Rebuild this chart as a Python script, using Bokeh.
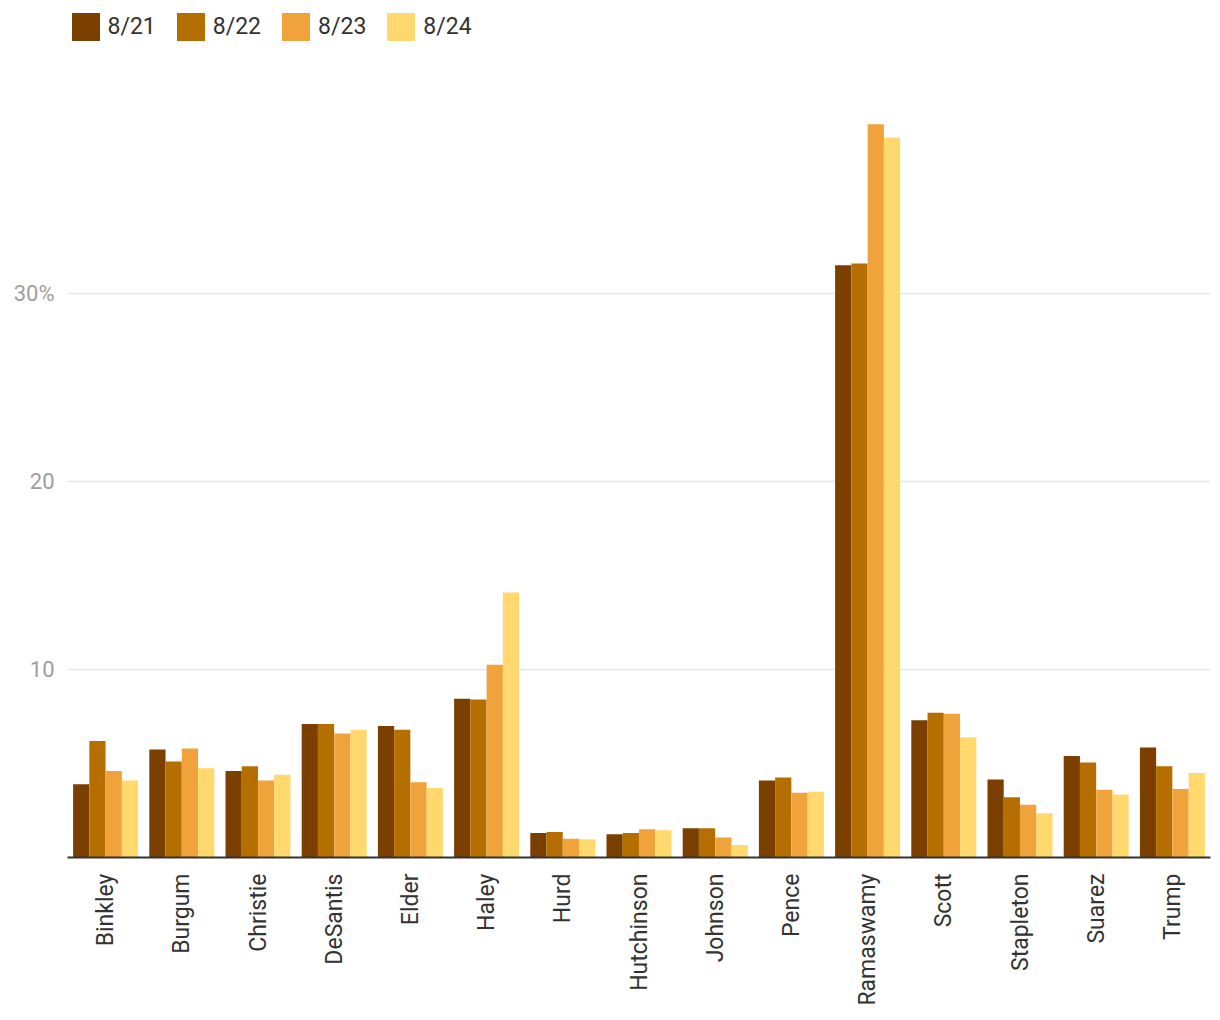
import math
from bokeh.plotting import figure
from bokeh.layouts import column
from bokeh.models import ColumnDataSource, FactorRange, Range1d, FixedTicker, Legend, LegendItem
from bokeh.transform import dodge
from bokeh.embed import file_html
from bokeh.resources import INLINE

candidates = ["Binkley", "Burgum", "Christie", "DeSantis", "Elder", "Haley", "Hurd",
              "Hutchinson", "Johnson", "Pence", "Ramaswamy", "Scott", "Stapleton", "Suarez", "Trump"]
series_names = ["8/21", "8/22", "8/23", "8/24"]
v_0821 = [3.9, 5.75, 4.6, 7.1, 7.0, 8.45, 1.3, 1.24, 1.55, 4.1, 31.5, 7.3, 4.15, 5.4, 5.85]
v_0822 = [6.2, 5.1, 4.85, 7.1, 6.8, 8.4, 1.35, 1.3, 1.55, 4.25, 31.6, 7.7, 3.2, 5.05, 4.85]
v_0823 = [4.6, 5.8, 4.1, 6.6, 4.0, 10.25, 1.0, 1.5, 1.07, 3.45, 39.0, 7.65, 2.8, 3.6, 3.65]
v_0824 = [4.1, 4.75, 4.4, 6.8, 3.7, 14.1, 0.97, 1.45, 0.66, 3.5, 38.3, 6.4, 2.35, 3.35, 4.5]
colors = ["#7b3f00", "#b56f00", "#f0a33a", "#ffd86e"]
y_ticks = [10, 20, 30]
y_tick_labels = {10: "10", 20: "20", 30: "30%"}

source = ColumnDataSource(data=dict(cand=candidates, s0=v_0821, s1=v_0822, s2=v_0823, s3=v_0824))
keys = ["s0", "s1", "s2", "s3"]

FONT = "Roboto"

# ---------- main chart ----------
p = figure(x_range=FactorRange(*candidates), y_range=Range1d(0, 42.5),
           width=1212, height=962, output_backend="svg", toolbar_location=None,
           min_border_left=67, min_border_right=2, min_border_top=8, min_border_bottom=155)
p.outline_line_color = None

bar_w = 0.213
offsets = [-0.32, -0.107, 0.107, 0.32]
for i, key in enumerate(keys):
    p.vbar(x=dodge("cand", offsets[i], range=p.x_range), top=key, width=bar_w,
           source=source, fill_color=colors[i], line_color=None)

p.yaxis.ticker = FixedTicker(ticks=y_ticks)
p.yaxis.major_label_overrides = y_tick_labels
p.yaxis.axis_line_color = None
p.yaxis.major_tick_line_color = None
p.yaxis.minor_tick_line_color = None
p.yaxis.major_tick_out = 0
p.yaxis.major_label_standoff = 13
p.yaxis.major_label_text_font = FONT
p.yaxis.major_label_text_font_size = "22px"
p.yaxis.major_label_text_color = "#9e9e9e"

p.xaxis.axis_line_color = "#333333"
p.xaxis.axis_line_width = 2
p.xaxis.major_tick_line_color = None
p.xaxis.major_tick_out = 0
p.xaxis.major_label_standoff = 16
p.xaxis.major_label_orientation = math.pi / 2
p.xaxis.major_label_text_font = FONT
p.xaxis.major_label_text_font_size = "23px"
p.xaxis.major_label_text_color = "#333333"

p.xgrid.grid_line_color = None
p.ygrid.grid_line_color = "#e6e6e6"
p.ygrid.grid_line_width = 1.5

# ---------- legend strip (proxy bars lie outside its visible range) ----------
lg = figure(width=1212, height=50, output_backend="svg", toolbar_location=None,
            x_axis_type=None, y_axis_type=None, min_border=0,
            min_border_left=0, min_border_right=0, min_border_top=0, min_border_bottom=0,
            x_range=FactorRange(*candidates), y_range=Range1d(100, 101))
lg.outline_line_color = None
lg.xgrid.grid_line_color = None
lg.ygrid.grid_line_color = None
lrs = [lg.vbar(x="cand", top=keys[i], width=0.1, source=source, fill_color=colors[i], line_color=None)
       for i in range(4)]
legend = Legend(items=[LegendItem(label=series_names[i], renderers=[lrs[i]]) for i in range(4)],
                orientation="horizontal", location=(0.5, 6.5),
                glyph_width=35, glyph_height=35, padding=0, spacing=17, label_standoff=5,
                label_text_font=FONT, label_text_font_size="23px", label_text_color="#333333",
                border_line_color=None, background_fill_alpha=0, margin=0)
lg.add_layout(legend, "center")

layout = column(lg, p, spacing=0)
open("out.html", "w").write(file_html(layout, INLINE))
